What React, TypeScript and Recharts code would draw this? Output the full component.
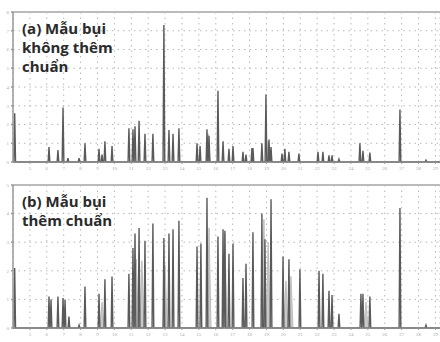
import React from "react";
import { ComposedChart, Line, Area, XAxis, YAxis, CartesianGrid, ReferenceLine } from "recharts";

// Retention time ticks (min)
const timeTicks = [5, 6, 7, 8, 9, 10, 11, 12, 13, 14, 15, 16, 17, 18, 19, 20, 21, 22, 23, 24, 25, 26, 27, 28, 29];
const markerTimes = [18.02, 21.16, 23.17, 25.24];

// (a) sample without standard: peak times and heights
const aTimes = [4.1, 6.13, 6.66, 6.96, 7.25, 7.91, 8.26, 9.09, 9.27, 9.44, 9.86, 10.86, 11.1, 11.22, 11.46, 11.81, 12.28, 12.93, 13.23, 13.47, 13.82, 14.89, 15.07, 15.48, 15.6, 16.13, 16.43, 16.78, 17.02, 17.61, 17.79, 18.14, 18.2, 18.73, 18.97, 19.15, 19.27, 19.92, 20.09, 20.33, 20.92, 22.05, 22.34, 22.7, 22.88, 23.29, 24.53, 24.71, 25.12, 26.9, 28.44];
const aHeights = [2.6, 0.8, 0.64, 2.9, 0.2, 0.2, 1.0, 0.7, 0.4, 1.1, 0.85, 1.8, 1.75, 1.9, 2.2, 1.5, 1.5, 7.3, 1.7, 1.5, 1.8, 1.0, 0.85, 1.75, 1.4, 3.8, 1.1, 0.7, 0.85, 0.55, 0.4, 0.75, 0.75, 1.0, 3.6, 1.2, 0.8, 0.45, 0.7, 0.55, 0.45, 0.55, 0.55, 0.35, 0.35, 0.15, 1.0, 0.6, 0.5, 2.8, 0.1];
const aLightTimes = [15.55, 19.1];
const aLightHeights = [1.5, 1.1];

// (b) sample with standard added
const bTimes = [4.1, 6.13, 6.25, 6.66, 6.96, 7.08, 7.31, 7.91, 8.26, 9.09, 9.44, 9.86, 10.86, 11.1, 11.22, 11.46, 11.81, 12.28, 12.93, 13.23, 13.47, 13.82, 14.89, 15.12, 15.48, 16.13, 16.43, 16.54, 16.78, 17.02, 17.61, 17.79, 18.2, 18.73, 18.91, 19.27, 19.98, 20.33, 20.98, 22.11, 22.34, 22.7, 22.88, 23.29, 24.59, 24.71, 25.12, 26.9, 28.44];
const bHeights = [2.1, 1.1, 1.0, 1.1, 1.05, 1.0, 0.4, 0.1, 1.45, 1.2, 1.7, 1.8, 1.9, 2.8, 3.3, 3.5, 3.05, 3.65, 3.15, 3.3, 3.45, 3.75, 2.85, 2.95, 4.55, 3.2, 3.45, 3.4, 2.6, 2.95, 1.75, 2.25, 3.35, 4.0, 3.1, 4.5, 2.5, 2.4, 2.05, 2.0, 1.9, 1.3, 1.15, 0.5, 1.2, 1.2, 1.1, 4.2, 0.1];
const bLightTimes = [9.27, 11.3, 11.63, 13.0, 15.6, 16.54, 18.85, 19.1, 20.15, 20.45, 24.89];
const bLightHeights = [0.9, 2.4, 2.35, 2.2, 3.5, 3.3, 3.8, 3.0, 1.65, 1.8, 0.9];

const T0 = 4;
const T1 = 29.27;

function spikes(times: number[], heights: number[], w: number) {
  const pts: { t: number; y: number }[] = [{ t: T0, y: 0 }];
  times.forEach((t, i) => {
    pts.push({ t: t - w, y: 0 });
    pts.push({ t, y: heights[i] });
    pts.push({ t: t + w, y: 0 });
  });
  pts.push({ t: T1, y: 0 });
  return pts.sort((p, q) => p.t - q.t);
}

const labelStyle: React.CSSProperties = {
  position: "absolute",
  fontFamily: "'Open Sans', sans-serif",
  fontWeight: 700,
  fontSize: 15,
  lineHeight: "19px",
  color: "#2a2a2a",
  whiteSpace: "pre",
};

function Panel({ dark, light, yMax, top, bottom }: { dark: any[]; light: any[]; yMax: number; top: number; bottom: number }) {
  const yTicks = Array.from({ length: yMax + 1 }, (_, i) => i);
  return (
    <ComposedChart width={440} height={171} margin={{ top, right: 0, left: 0, bottom: 0 }}>
      <CartesianGrid stroke="#b8b8b8" strokeDasharray="1.5 4" />
      <XAxis
        dataKey="t"
        type="number"
        domain={[T0, T1]}
        ticks={timeTicks}
        allowDataOverflow
        height={bottom}
        tick={{ fontSize: 5, fill: "#aaa" }}
        tickSize={2}
        stroke="#999"
        interval={0}
      />
      <XAxis
        xAxisId="top"
        orientation="top"
        dataKey="t"
        type="number"
        domain={[T0, T1]}
        ticks={markerTimes}
        allowDataOverflow
        height={0}
        tickFormatter={() => ""}
        tickSize={-5}
        stroke="#bbb"
        tickLine={{ stroke: "#999", strokeWidth: 2 }}
      />
      <YAxis
        type="number"
        domain={[0, yMax]}
        ticks={yTicks}
        width={13}
        tick={{ fontSize: 5, fill: "#aaa" }}
        tickSize={2}
        stroke="#999"
        strokeWidth={1.5}
        interval={0}
      />
      <ReferenceLine y={yMax} stroke="#bbb" strokeWidth={2} ifOverflow="extendDomain" />
      <Area data={light} dataKey="y" type="linear" fill="#c9c9c9" fillOpacity={1} stroke="#bdbdbd" strokeWidth={1} isAnimationActive={false} />
      <Line data={dark} dataKey="y" type="linear" stroke="#5a5a5a" strokeWidth={1.4} dot={false} isAnimationActive={false} />
    </ComposedChart>
  );
}

export default function App() {
  const aDark = spikes(aTimes, aHeights, 0.05);
  const aLight = spikes(aLightTimes, aLightHeights, 0.12);
  const bDark = spikes(bTimes, bHeights, 0.05);
  const bLight = spikes(bLightTimes, bLightHeights, 0.12);
  return (
    <div style={{ position: "fixed", left: 0, top: 0, width: 440, height: 342, background: "#fff", overflow: "hidden" }}>
      <div style={{ position: "absolute", left: 0, top: 0 }}>
        <Panel dark={aDark} light={aLight} yMax={8} top={12} bottom={9} />
      </div>
      <div style={{ position: "absolute", left: 0, top: 171 }}>
        <Panel dark={bDark} light={bLight} yMax={5} top={14} bottom={14} />
      </div>
      <div style={{ ...labelStyle, left: 22, top: 19 }}>{"(a) Mẫu bụi\nkhông thêm\nchuẩn"}</div>
      <div style={{ ...labelStyle, left: 22, top: 192 }}>{"(b) Mẫu bụi\nthêm chuẩn"}</div>
    </div>
  );
}
